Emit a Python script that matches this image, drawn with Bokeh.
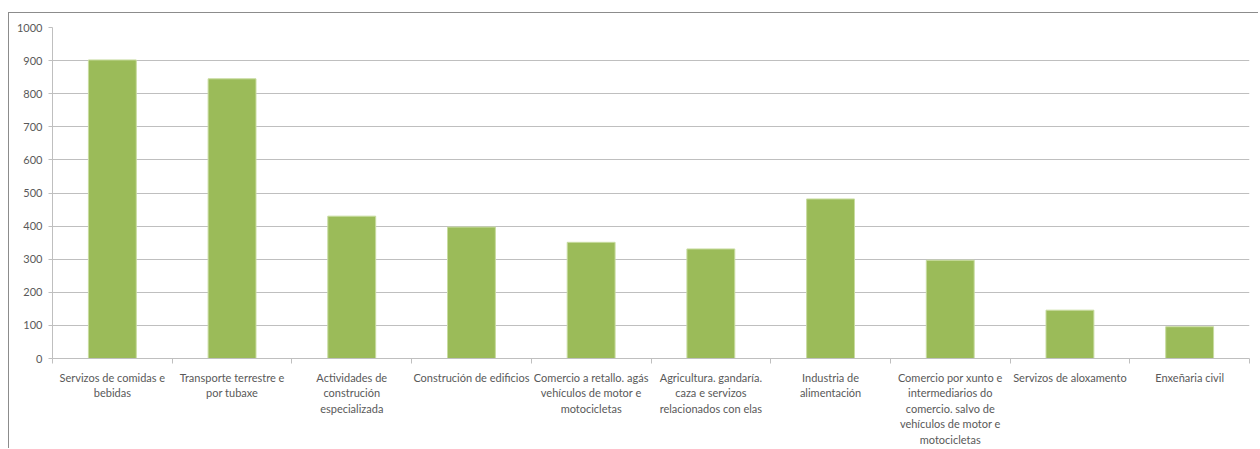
from bokeh.plotting import figure
from bokeh.models import FixedTicker, Range1d, ColumnDataSource
from bokeh.embed import file_html
from bokeh.resources import INLINE

categories = [
    "Servizos de comidas e\nbebidas",
    "Transporte terrestre e\npor tubaxe",
    "Actividades de\nconstrución\nespecializada",
    "Construción de edificios",
    "Comercio a retallo. agás\nvehículos de motor e\nmotocicletas",
    "Agricultura. gandaría.\ncaza e servizos\nrelacionados con elas",
    "Industria de\nalimentación",
    "Comercio por xunto e\nintermediarios do\ncomercio. salvo de\nvehículos de motor e\nmotocicletas",
    "Servizos de aloxamento",
    "Enxeñaria civil",
]
values = [902, 845, 430, 397, 351, 331, 482, 297, 146, 96]
y_ticks = [0, 100, 200, 300, 400, 500, 600, 700, 800, 900, 1000]

n = len(categories)
xs = [i + 0.5 for i in range(n)]
src = ColumnDataSource(dict(x=xs, top=values))

p = figure(width=1250, height=436, output_backend="svg", toolbar_location=None,
           x_range=Range1d(0, n), y_range=Range1d(0, 1000),
           min_border_left=43, min_border_right=10, min_border_top=14, min_border_bottom=91)
p.styles = {"margin-top": "12px", "margin-left": "8px",
            "border-top": "1px solid #8c8c8c", "border-left": "1px solid #8c8c8c"}
p.outline_line_color = None
p.background_fill_color = "white"
p.border_fill_color = "white"

p.vbar(x="x", top="top", width=0.4, source=src, fill_color="#9BBB59", line_color="#C8DCA0", line_width=1)

GRAY = "#595959"
# x axis
p.xaxis.ticker = FixedTicker(ticks=xs, minor_ticks=list(range(n + 1)))
p.xaxis.major_label_overrides = {x: c for x, c in zip(xs, categories)}
p.xaxis.major_tick_out = 0
p.xaxis.major_tick_in = 0
p.xaxis.minor_tick_out = 5
p.xaxis.minor_tick_in = 0
p.xaxis.minor_tick_line_color = "#BFBFBF"
p.xaxis.axis_line_color = "#BFBFBF"
p.xaxis.major_label_text_font = "Lato"
p.xaxis.major_label_text_font_size = "11px"
p.xaxis.major_label_text_color = GRAY
p.xaxis.major_label_standoff = 7
p.xaxis.major_label_orientation = "horizontal"

# y axis
p.yaxis.ticker = FixedTicker(ticks=y_ticks)
p.yaxis.minor_tick_line_color = None
p.yaxis.major_tick_out = 4
p.yaxis.major_tick_in = 0
p.yaxis.major_tick_line_color = "#BFBFBF"
p.yaxis.axis_line_color = "#BFBFBF"
p.yaxis.major_label_text_font = "Lato"
p.yaxis.major_label_text_font_size = "11px"
p.yaxis.major_label_text_color = GRAY
p.yaxis.major_label_standoff = 6

p.xgrid.grid_line_color = None
p.ygrid.ticker = FixedTicker(ticks=y_ticks)
p.ygrid.grid_line_color = "#BFBFBF"

open("out.html", "w").write(file_html(p, INLINE))
